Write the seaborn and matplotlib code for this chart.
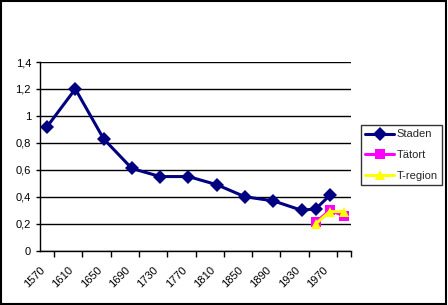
import matplotlib
matplotlib.use("Agg")
import matplotlib.pyplot as plt
import seaborn as sns
import pandas as pd
from matplotlib.patches import Rectangle
from matplotlib.ticker import FuncFormatter

sns.set_theme(style="white")
plt.rcParams['font.family'] = ['Liberation Sans', 'DejaVu Sans']

staden_years = [1570, 1610, 1650, 1690, 1730, 1770, 1810, 1850, 1890, 1930, 1950, 1970]
staden_vals = [0.92, 1.20, 0.83, 0.61, 0.55, 0.55, 0.49, 0.40, 0.37, 0.30, 0.31, 0.41]
tatort_years = [1950, 1970, 1990]
tatort_vals = [0.21, 0.30, 0.26]
tregion_years = [1950, 1970, 1990]
tregion_vals = [0.20, 0.29, 0.29]
series_names = ["Staden", "Tätort", "T-region"]
tick_labels = ["1570", "1610", "1650", "1690", "1730", "1770", "1810", "1850", "1890", "1930", "1970"]
y_ticks = [0, 0.2, 0.4, 0.6, 0.8, 1.0, 1.2, 1.4]

df = pd.concat([
    pd.DataFrame({"year": staden_years, "value": staden_vals, "serie": series_names[0]}),
    pd.DataFrame({"year": tatort_years, "value": tatort_vals, "serie": series_names[1]}),
    pd.DataFrame({"year": tregion_years, "value": tregion_vals, "serie": series_names[2]}),
])

fig = plt.figure(figsize=(4.48, 3.05), dpi=100)
fig.patch.set_facecolor("white")
ax = fig.add_axes([40/448, 1-250.7/305, 311/448, (250.7-62)/305])

palette = {"Staden": "#000080", "Tätort": "#FF00FF", "T-region": "#FFFF00"}
markers = {"Staden": "D", "Tätort": "s", "T-region": "^"}
sns.lineplot(data=df, x="year", y="value", hue="serie", style="serie",
             palette=palette, markers=markers, dashes=False, ax=ax,
             linewidth=2.2, markersize=7.5, markeredgewidth=0, legend=True)

ax.set_xlim(1560, 2000)
ax.set_ylim(0, 1.4)
ax.set_yticks(y_ticks)
ax.yaxis.set_major_formatter(FuncFormatter(lambda v, p: ("%g" % round(v, 1)).replace(".", ",")))
ax.grid(axis="y", color="black", linewidth=1)
ax.set_axisbelow(True)

# labels anchored at the left boundary of each labelled 20-year category
ax.set_xticks([int(t) - 10 for t in tick_labels])
ax.set_xticklabels(tick_labels, rotation=45, ha="right", rotation_mode="anchor")
ax.set_xticks(list(range(1560, 2001, 20)), minor=True)
ax.tick_params(axis="x", which="major", length=0, pad=10, labelsize=8, colors="black")
ax.tick_params(axis="x", which="minor", length=4, width=1, color="black", direction="out", bottom=True)
ax.tick_params(axis="y", which="major", length=3, width=1, color="black", direction="out", left=True,
               labelsize=8, labelcolor="black")
ax.set_xlabel("")
ax.set_ylabel("")
for s in ["top", "right"]:
    ax.spines[s].set_visible(False)
for s in ["left", "bottom"]:
    ax.spines[s].set_color("black")
    ax.spines[s].set_linewidth(1)
ax.set_facecolor("white")

leg = ax.legend(loc="upper left", bbox_to_anchor=(361/448, 1-125/305), bbox_transform=fig.transFigure,
                frameon=True, fancybox=False, shadow=False, fontsize=8, handlelength=2.6,
                borderpad=0.4, labelspacing=0.95, handletextpad=0.2, borderaxespad=0)
leg.get_frame().set_edgecolor("black")
leg.get_frame().set_linewidth(1)

fig.add_artist(Rectangle((0.002, 0.003), 0.994, 0.994, transform=fig.transFigure,
                         fill=False, edgecolor="black", linewidth=1.5))

fig.savefig("out.png", dpi=100, facecolor="white")
